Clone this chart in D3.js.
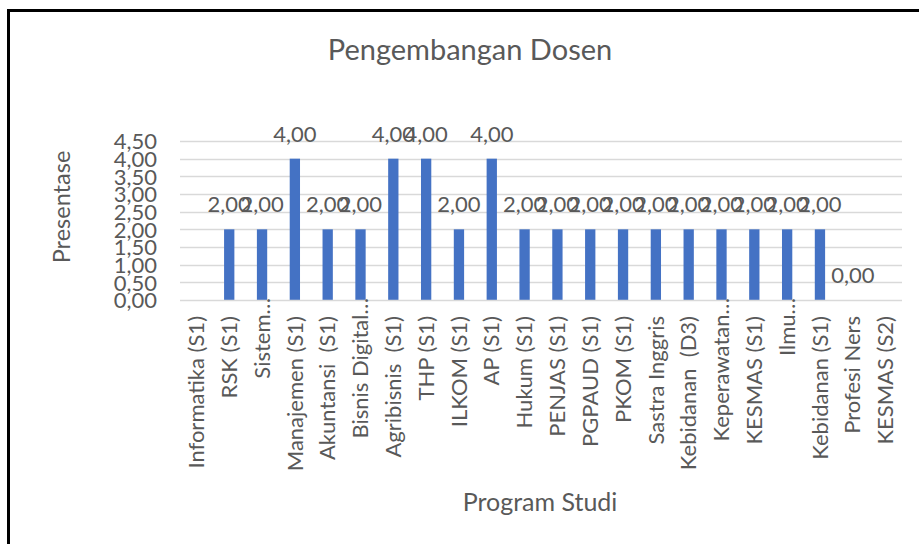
<!DOCTYPE html>
<html>
<head>
<meta charset="utf-8">
<script src="https://cdn.jsdelivr.net/npm/d3@7"></script>
<style>
  body { margin: 0; background: #fff; }
  text { font-family: Lato, "Open Sans", sans-serif; fill: #595959; white-space: pre; }
</style>
</head>
<body>
<svg id="chart" width="919" height="544"></svg>
<script>
// data
const programs = [
  "Informatika (S1)", "RSK (S1)", "Sistem…", "Manajemen (S1)", "Akuntansi  (S1)",
  "Bisnis Digital…", "Agribisnis  (S1)", "THP (S1)", "ILKOM (S1)", "AP (S1)",
  "Hukum (S1)", "PENJAS (S1)", "PGPAUD (S1)", "PKOM (S1)", "Sastra Inggris",
  "Kebidanan  (D3)", "Keperawatan…", "KESMAS (S1)", "Ilmu…", "Kebidanan (S1)",
  "Profesi Ners", "KESMAS (S2)"
];
const values = [null, 2, 2, 4, 2, 2, 4, 4, 2, 4, 2, 2, 2, 2, 2, 2, 2, 2, 2, 2, 0, null];
const yTicks = [0, 0.5, 1, 1.5, 2, 2.5, 3, 3.5, 4, 4.5];

const svg = d3.select("#chart");
const fmt = v => d3.format(".2f")(v).replace(".", ",");

// plot area
const plotLeft = 180, plotRight = 902, plotTop = 141, plotBottom = 300;

const x = d3.scaleBand()
  .domain(programs)
  .range([plotLeft, plotRight])
  .paddingInner(0.686)
  .paddingOuter(0.343);

const y = d3.scaleLinear()
  .domain([0, 4.5])
  .range([plotBottom, plotTop]);

// background + outer border
svg.append("rect")
  .attr("x", 0).attr("y", 0).attr("width", 919).attr("height", 544)
  .attr("fill", "#fff");
svg.append("rect")
  .attr("x", 8.5).attr("y", 10.5).attr("width", 930).attr("height", 560)
  .attr("fill", "none").attr("stroke", "#000").attr("stroke-width", 3);

// ---------------- GRIDLINES ----------------
svg.append("g")
  .selectAll("line")
  .data(yTicks.filter(d => d > 0))
  .join("line")
  .attr("x1", plotLeft).attr("x2", plotRight)
  .attr("y1", d => Math.round(y(d)) + 0.5)
  .attr("y2", d => Math.round(y(d)) + 0.5)
  .attr("stroke", "#d9d9d9").attr("stroke-width", 1.3);

// ---------------- Y AXIS LABELS ----------------
const yAxis = d3.axisLeft(y).tickValues(yTicks).tickFormat(fmt).tickSize(0).tickPadding(0);
const gy = svg.append("g").attr("transform", `translate(157,0)`).call(yAxis);
gy.select(".domain").remove();
gy.selectAll("text")
  .attr("font-size", 22)
  .attr("font-family", "Lato, 'Open Sans', sans-serif")
  .attr("fill", "#595959")
  .attr("dy", "0.36em");

// ---------------- BARS ----------------
const barData = programs.map((p, i) => ({ p, v: values[i] })).filter(d => d.v !== null);

svg.append("g")
  .selectAll("rect")
  .data(barData)
  .join("rect")
  .attr("x", d => x(d.p))
  .attr("y", d => y(d.v))
  .attr("width", x.bandwidth())
  .attr("height", d => y(0) - y(d.v))
  .attr("fill", "#4472c4");

// category axis line
svg.append("line")
  .attr("x1", plotLeft).attr("x2", plotRight)
  .attr("y1", plotBottom + 0.5).attr("y2", plotBottom + 0.5)
  .attr("stroke", "#d9d9d9").attr("stroke-width", 1.3);

// ---------------- DATA LABELS ----------------
svg.append("g")
  .selectAll("text")
  .data(barData)
  .join("text")
  .attr("x", d => x(d.p) + x.bandwidth() / 2)
  .attr("y", d => y(d.v) - 17)
  .attr("text-anchor", "middle")
  .attr("font-size", 22)
  .text(d => fmt(d.v));

// ---------------- X AXIS LABELS ----------------
svg.append("g")
  .selectAll("text")
  .data(programs)
  .join("text")
  .attr("transform", d => {
    const cx = x(d) + x.bandwidth() / 2;
    const yEnd = d.endsWith("…") ? 298 : 316;
    return `translate(${cx},${yEnd}) rotate(-90)`;
  })
  .attr("text-anchor", "end")
  .attr("dy", "0.35em")
  .attr("font-size", 22)
  .text(d => d);

// ---------------- TITLES ----------------
svg.append("text")
  .attr("x", 470).attr("y", 60)
  .attr("text-anchor", "middle")
  .attr("font-size", 29)
  .text("Pengembangan Dosen");

svg.append("text")
  .attr("transform", "translate(62,207) rotate(-90)")
  .attr("text-anchor", "middle")
  .attr("dy", "0.35em")
  .attr("font-size", 23.5)
  .text("Presentase");

svg.append("text")
  .attr("x", 540).attr("y", 511)
  .attr("text-anchor", "middle")
  .attr("font-size", 25)
  .text("Program Studi");
</script>
</body>
</html>
